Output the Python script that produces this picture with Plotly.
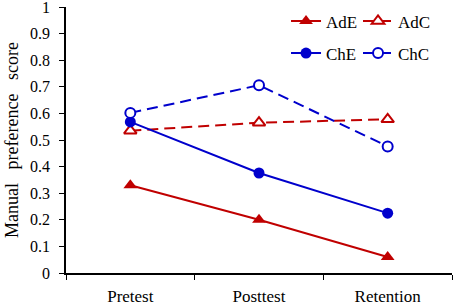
import plotly.graph_objects as go

phases = ["Pretest", "Posttest", "Retention"]
AdE = [0.33, 0.20, 0.06]
AdC = [0.535, 0.565, 0.578]
ChE = [0.568, 0.376, 0.225]
ChC = [0.602, 0.706, 0.476]
y_ticks = [0, 0.1, 0.2, 0.3, 0.4, 0.5, 0.6, 0.7, 0.8, 0.9, 1]
y_tick_labels = ["0", "0.1", "0.2", "0.3", "0.4", "0.5", "0.6", "0.7", "0.8", "0.9", "1"]

RED = "#C00000"
BLUE = "#0000CC"
FONT = "Liberation Serif"

fig = go.Figure()
fig.add_trace(go.Scatter(x=phases, y=AdE, name="AdE", mode="lines+markers",
                         line=dict(color=RED, width=2),
                         marker=dict(symbol="triangle-up", size=12, color=RED),
                         legend="legend"))
fig.add_trace(go.Scatter(x=phases, y=AdC, name="AdC", mode="lines+markers",
                         line=dict(color=RED, width=2, dash="11px,6px"),
                         marker=dict(symbol="triangle-up", size=11, color="white",
                                     line=dict(color=RED, width=2)),
                         legend="legend"))
fig.add_trace(go.Scatter(x=phases, y=ChE, name="ChE", mode="lines+markers",
                         line=dict(color=BLUE, width=2),
                         marker=dict(symbol="circle", size=11, color=BLUE),
                         legend="legend2"))
fig.add_trace(go.Scatter(x=phases, y=ChC, name="ChC", mode="lines+markers",
                         line=dict(color=BLUE, width=2, dash="11px,6px"),
                         marker=dict(symbol="circle", size=10, color="white",
                                     line=dict(color=BLUE, width=2)),
                         legend="legend2"))

legend_common = dict(orientation="h", xref="paper", yref="paper",
                     xanchor="left", yanchor="middle",
                     font=dict(family=FONT, size=17, color="black"),
                     bgcolor="rgba(0,0,0,0)", entrywidth=27, entrywidthmode="pixels",
                     itemclick=False)

fig.update_layout(
    width=454, height=303,
    margin=dict(l=66, r=2, t=7, b=30, autoexpand=False),
    paper_bgcolor="white", plot_bgcolor="white",
    font=dict(family=FONT, size=16, color="black"),
    showlegend=True,
    legend=dict(x=0.57, y=0.946, **legend_common),
    legend2=dict(x=0.57, y=0.825, **legend_common),
    xaxis=dict(type="category", range=[-0.5, 2.5], showline=True, linecolor="black",
               linewidth=1.5, ticks="outside", tickson="boundaries", ticklen=5,
               tickcolor="black", showgrid=False, zeroline=False,
               tickfont=dict(family=FONT, size=17), ticklabelstandoff=7),
    yaxis=dict(range=[0, 1.0001], tickvals=y_ticks, ticktext=y_tick_labels,
               showline=True, linecolor="black",
               linewidth=1.5, ticks="outside", ticklen=5, tickcolor="black",
               showgrid=False, zeroline=False, ticklabeloverflow="allow",
               tickfont=dict(family=FONT, size=16), ticklabelstandoff=6,
               title=dict(text="Manual\u00a0\u00a0 preference\u00a0\u00a0 score",
                          font=dict(family=FONT, size=18), standoff=7)),
)

fig.write_html("out.html", config={"displayModeBar": False},
               post_script="document.body.style.margin='0';document.body.style.padding='0';")
